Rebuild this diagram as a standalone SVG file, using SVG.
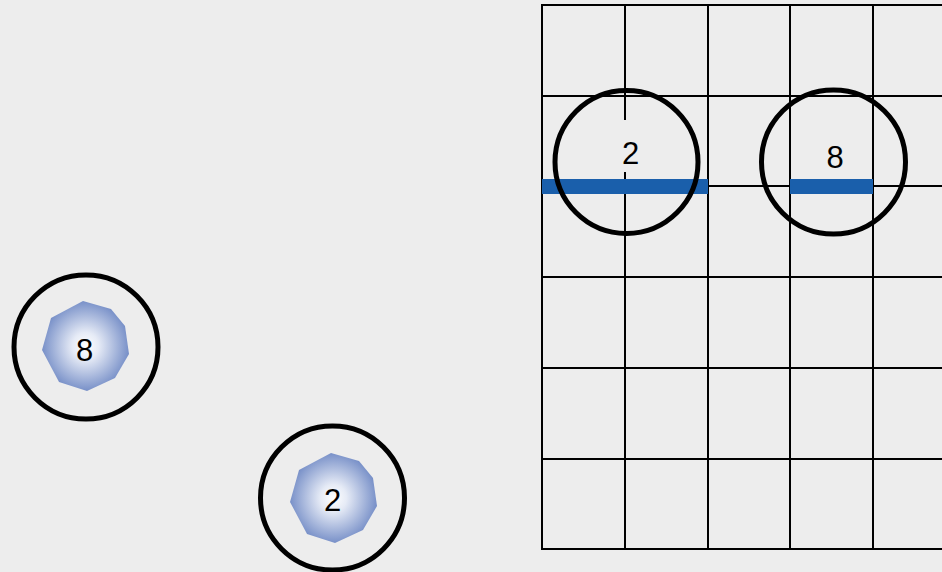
<svg xmlns="http://www.w3.org/2000/svg" width="942" height="572" viewBox="0 0 942 572">
<style>
.grid{stroke:#000;stroke-width:2;fill:none}
.ring{fill:none;stroke:#000;stroke-width:5}
.bar{fill:#1a5fab}
.lbl{font-family:"Liberation Sans",Arial,sans-serif;font-size:31px;fill:#000;text-anchor:middle}
</style>
<defs>
<radialGradient id="g" cx="0.5" cy="0.5" r="0.5">
<stop offset="0" stop-color="#ffffff"/>
<stop offset="0.3" stop-color="#e6ebf6"/>
<stop offset="1" stop-color="#7890c8"/>
</radialGradient>
<polygon id="oct" points="-2,-45 26,-37 40,-20 44,8 30,32 2,45 -26,36 -43,4 -34,-28"/>
</defs>
<rect width="942" height="572" fill="#ededed"/>
<g id="grid">
<line class="grid" x1="542" y1="5" x2="942" y2="5"/>
<line class="grid" x1="542" y1="96" x2="942" y2="96"/>
<line class="grid" x1="542" y1="186" x2="942" y2="186"/>
<line class="grid" x1="542" y1="277" x2="942" y2="277"/>
<line class="grid" x1="542" y1="368" x2="942" y2="368"/>
<line class="grid" x1="542" y1="459" x2="942" y2="459"/>
<line class="grid" x1="541" y1="549" x2="942" y2="549"/>
<line class="grid" x1="542" y1="4" x2="542" y2="550"/>
<line class="grid" x1="625" y1="4" x2="625" y2="120"/>
<line class="grid" x1="625" y1="172" x2="625" y2="550"/>
<line class="grid" x1="708" y1="4" x2="708" y2="550"/>
<line class="grid" x1="790" y1="4" x2="790" y2="550"/>
<line class="grid" x1="873" y1="4" x2="873" y2="550"/>
</g>
<g id="bars">
<rect class="bar" x="542" y="179" width="166" height="15"/>
<rect class="bar" x="790" y="179" width="83" height="15"/>
</g>
<g id="grid-node-2">
<circle class="ring" cx="626.5" cy="162" r="71.5"/>
<text class="lbl" x="630.5" y="164">2</text>
</g>
<g id="grid-node-8">
<circle class="ring" cx="833.5" cy="162" r="72"/>
<text class="lbl" x="835" y="168">8</text>
</g>
<g id="node-8">
<use href="#oct" x="85" y="346" fill="url(#g)"/>
<circle class="ring" cx="86" cy="347" r="72"/>
<text class="lbl" x="84.5" y="361">8</text>
</g>
<g id="node-2">
<use href="#oct" x="333" y="498" fill="url(#g)"/>
<circle class="ring" cx="332.5" cy="498" r="72"/>
<text class="lbl" x="332.5" y="511">2</text>
</g>
</svg>
